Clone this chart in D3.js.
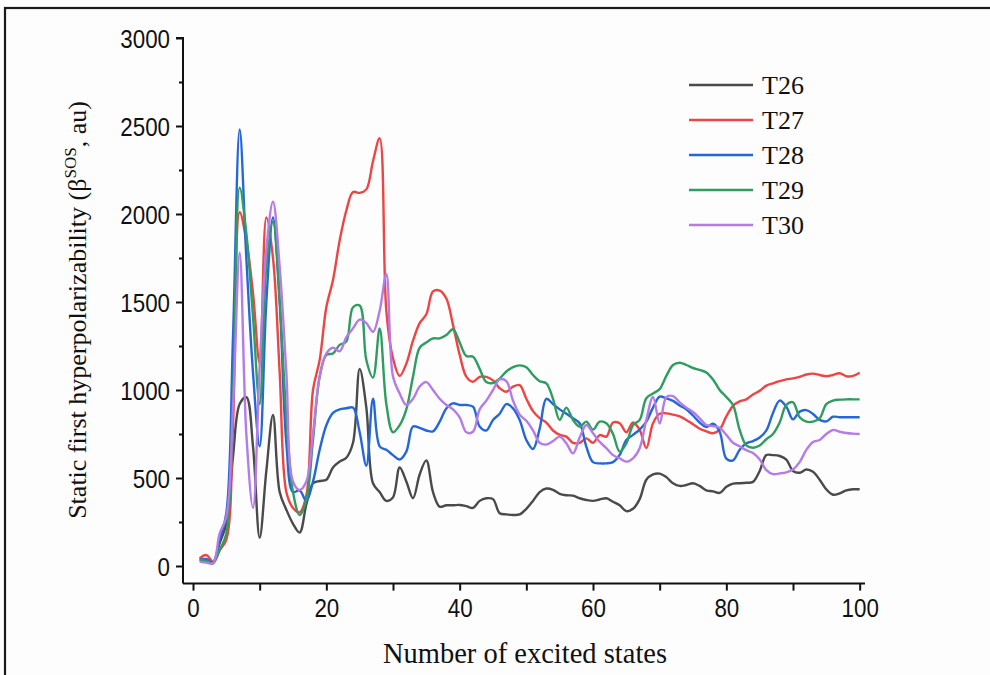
<!DOCTYPE html>
<html><head><meta charset="utf-8">
<script src="https://cdn.jsdelivr.net/npm/d3@7"></script>
<style>
html,body{margin:0;padding:0;background:#fdfdfd;}
svg{display:block;}
</style></head>
<body>
<svg id="chart" width="990" height="675"></svg>
<script>
const states = d3.range(1, 101);
const seriesNames = ["T26", "T27", "T28", "T29", "T30"];
const seriesColors = ["#4a4a4a", "#ee4444", "#2468d8", "#2f9c60", "#b57be6"];
const xTicks = [0, 20, 40, 60, 80, 100];
const yTicks = [0, 500, 1000, 1500, 2000, 2500, 3000];

const T26 = [38,30,18,130,240,620,920,960,680,160,540,858,420,320,240,190,350,470,483,490,
 560,593,615,700,1120,900,470,420,370,390,560,480,385,520,600,420,337,345,345,347,
 340,330,370,385,380,300,293,290,293,325,370,420,440,433,410,402,400,385,375,370,
 378,385,365,345,312,325,380,490,520,525,505,470,455,460,470,455,430,424,415,450,
 468,470,473,478,540,630,630,625,605,540,530,548,535,490,435,405,413,430,436,436];
const T27 = [44,62,25,90,150,800,2010,1850,1550,1150,1980,1750,1100,420,330,305,400,1000,1170,1470,
 1625,1850,2020,2125,2120,2140,2300,2430,1450,1180,1080,1150,1280,1380,1430,1560,1565,1520,1370,1200,
 1076,1047,1075,1075,1055,1010,990,1019,1028,950,880,840,815,770,745,735,700,700,725,700,
 744,735,815,811,760,815,773,670,811,865,867,860,850,830,805,780,765,754,775,850,
 910,935,947,975,995,1025,1038,1050,1060,1066,1075,1088,1093,1085,1078,1085,1095,1078,1080,1098];
const T28 = [34,40,20,150,300,1300,2480,1750,1100,680,1500,1980,1500,700,420,430,370,480,660,800,
 870,890,896,900,760,570,950,680,660,630,605,650,792,785,770,765,820,895,924,915,
 915,905,792,770,830,865,920,896,830,716,665,780,950,920,890,865,840,811,678,590,
 583,583,590,631,716,745,775,820,900,962,953,938,912,890,855,815,790,808,763,610,
 600,660,697,710,730,770,870,940,905,833,877,886,864,830,822,848,845,845,845,845];
const T29 = [34,30,15,90,185,950,2150,1890,1417,920,1700,1956,1511,848,420,290,375,716,1076,1199,
 1208,1256,1275,1470,1480,1170,1070,1350,920,760,800,890,1076,1240,1270,1293,1293,1312,1345,1270,
 1193,1189,1120,1045,1040,1065,1105,1130,1140,1129,1085,1050,1038,950,830,900,830,792,820,775,
 820,811,750,650,697,800,830,953,980,1005,1080,1142,1155,1142,1125,1114,1100,1060,1000,960,
 915,773,685,672,685,720,750,815,915,930,845,820,820,839,920,940,945,947,947,947];
const T30 = [25,19,15,185,280,900,1780,750,330,1133,1795,2070,1700,1100,480,432,480,754,1076,1208,
 1240,1220,1300,1350,1400,1380,1331,1450,1660,1076,980,915,950,1020,1045,1000,950,915,890,845,
 760,763,890,940,1000,1060,1050,940,860,825,770,700,690,710,735,697,640,730,801,754,
 705,670,630,612,593,612,669,830,960,810,960,965,930,900,875,839,801,795,785,745,
 700,680,658,642,605,545,522,526,532,548,590,660,705,716,750,773,763,756,752,750];
const seriesValues = [T26, T27, T28, T29, T30];

const svg = d3.select("#chart");
// outer frame
svg.append("rect").attr("x", 5).attr("y", 8).attr("width", 1000).attr("height", 700)
  .attr("fill", "none").attr("stroke", "#1a1a1a").attr("stroke-width", 2.2);

const x = d3.scaleLinear().domain([-1.5, 100.8]).range([183, 865]);
const y = d3.scaleLinear().domain([-100, 3000]).range([583.6, 38]);

const axisColor = "#111";
const sx = 0.86;
// y axis
const gy = svg.append("g").attr("transform", "translate(183,0)");
gy.call(d3.axisLeft(y).tickValues(d3.range(0, 3001, 250)).tickSize(4).tickFormat(""));
gy.call(g => g.selectAll(".tick").filter(d => d % 500 === 0).select("line").attr("x2", -7));
gy.selectAll(".tick").filter(d => yTicks.includes(d)).append("text")
  .attr("transform", `scale(${sx},1)`)
  .attr("x", -13 / sx).attr("dy", "0.36em").attr("text-anchor", "end")
  .text(d => d);
gy.select(".domain").attr("d", `M0,${583.6}V${y(3000)}H-7`);
// x axis
const gx = svg.append("g").attr("transform", "translate(0,583.6)");
gx.call(d3.axisBottom(x).tickValues(d3.range(0, 101, 10)).tickSize(7).tickFormat(""));
gx.select(".domain").attr("d", `M183,0H865`);
gx.selectAll(".tick").filter(d => xTicks.includes(d)).append("text")
  .attr("transform", `scale(${sx},1)`)
  .attr("y", 33).attr("text-anchor", "middle").text(d => d);

svg.selectAll(".domain, .tick line").attr("stroke", axisColor).attr("stroke-width", 2);
svg.selectAll(".tick text").attr("fill", "#111")
  .attr("font-family", "'Liberation Sans', Arial, sans-serif").attr("font-size", 26);

// lines
const line = d3.line().x((d, i) => x(states[i])).y(d => y(d)).curve(d3.curveCatmullRom.alpha(0.5));
seriesValues.forEach((vals, k) => {
  svg.append("path").datum(vals).attr("d", line)
    .attr("fill", "none").attr("stroke", seriesColors[k]).attr("stroke-width", 2.4)
    .attr("stroke-linejoin", "round");
});

// legend
const lg = svg.append("g");
seriesNames.forEach((name, k) => {
  const yy = 85 + k * 35;
  lg.append("line").attr("x1", 689).attr("x2", 753).attr("y1", yy).attr("y2", yy)
    .attr("stroke", seriesColors[k]).attr("stroke-width", 2.4);
  lg.append("text").attr("x", 762).attr("y", yy).attr("dy", "0.35em")
    .attr("font-family", "'Liberation Serif', 'Times New Roman', serif").attr("font-size", 26)
    .attr("fill", "#111").text(name);
});

// axis titles
svg.append("text").attr("x", 525).attr("y", 663).attr("text-anchor", "middle")
  .attr("font-family", "'Liberation Serif', 'Times New Roman', serif").attr("font-size", 28.5)
  .attr("fill", "#111").text("Number of excited states");

const yt = svg.append("text").attr("transform", "translate(86,310) rotate(-90)")
  .attr("text-anchor", "middle")
  .attr("font-family", "'Liberation Serif', 'Times New Roman', serif").attr("font-size", 26)
  .attr("fill", "#111");
yt.append("tspan").text("Static first hyperpolarizability (β");
yt.append("tspan").attr("dy", -10).attr("font-size", 17).text("SOS");
yt.append("tspan").attr("dy", 10).text(", au)");
</script>
</body></html>
